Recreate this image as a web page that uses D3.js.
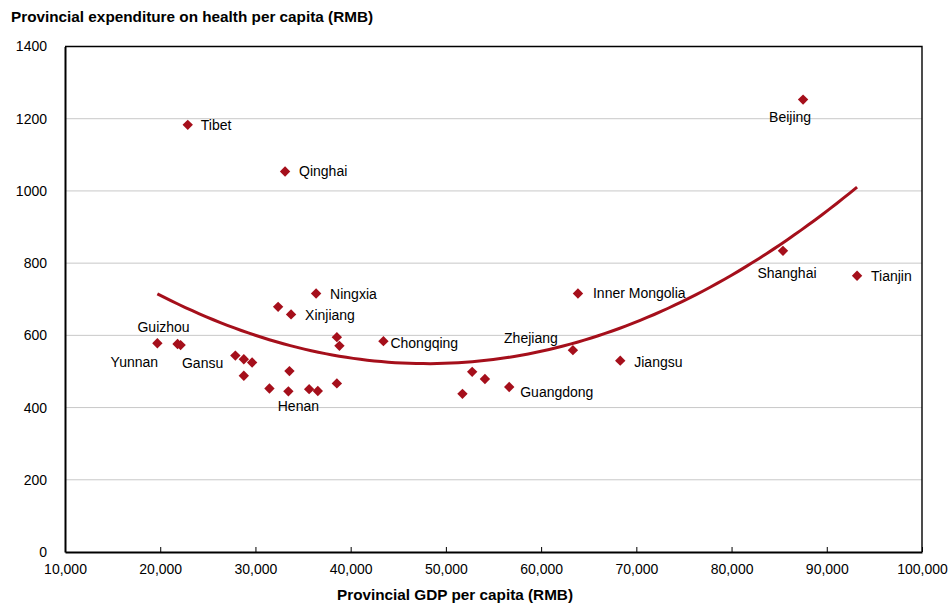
<!DOCTYPE html>
<html>
<head>
<meta charset="utf-8">
<script src="https://cdn.jsdelivr.net/npm/d3@7"></script>
<style>
  html, body { margin: 0; padding: 0; background: #fff; }
  svg text { font-family: "Liberation Sans", Arial, sans-serif; }
</style>
</head>
<body>
<svg id="chart" width="950" height="604"></svg>
<script>
// ---------- DATA ----------
const provinces = [
  "Tibet", "Qinghai", "Beijing", "Shanghai", "Tianjin", "Inner Mongolia",
  "Ningxia", "Xinjiang", "", "", "", "Chongqing",
  "Yunnan", "Guizhou", "Gansu", "", "", "", "", "",
  "", "Henan", "", "", "", "", "", "", "Guangdong", "Zhejiang", "Jiangsu"
];
const gdpPerCapita = [
  22890, 33110, 87510, 85400, 93180, 63870,
  36370, 33740, 32380, 38550, 38820, 43440,
  19700, 21820, 22140, 27890, 28780, 29650, 28780, 31470,
  33570, 33460, 35640, 36550, 38550, 52760, 54100, 51740, 56650, 63340, 68310
];
const healthPerCapita = [
  1183, 1054, 1253, 834, 765, 716,
  716, 658, 679, 595, 571, 584,
  578, 576, 573, 544, 534, 525, 488, 453,
  501, 445, 451, 446, 467, 499, 479, 438, 457, 559, 530
];
const xTicks = [10000, 20000, 30000, 40000, 50000, 60000, 70000, 80000, 90000, 100000];
const yTicks = [0, 200, 400, 600, 800, 1000, 1200, 1400];
const chartTitle = "Provincial expenditure on health per capita (RMB)";
const xTitle = "Provincial GDP per capita (RMB)";

// label placement (pixels relative to the marker): [anchor, dx, dy]
const labelPlacement = {
  "Tibet": ["start", 13, 0],
  "Qinghai": ["start", 14, 0],
  "Beijing": ["middle", -13, 18],
  "Shanghai": ["middle", 4, 22],
  "Tianjin": ["start", 14, 0],
  "Inner Mongolia": ["start", 15, 0],
  "Ningxia": ["start", 14, 1],
  "Xinjiang": ["start", 14, 1],
  "Chongqing": ["start", 7, 2],
  "Zhejiang": ["middle", -42, -12],
  "Jiangsu": ["start", 14, 1],
  "Guangdong": ["start", 11, 5],
  "Henan": ["middle", 10, 15],
  "Gansu": ["middle", 22, 18],
  "Yunnan": ["middle", -23, 19],
  "Guizhou": ["middle", -14, -17]
};

// ---------- LAYOUT ----------
const plotL = 65, plotR = 922, plotT = 46.5, plotB = 552;
const red = "#A50F1B";

const svg = d3.select("#chart");
const x = d3.scaleLinear().domain([10000, 100000]).range([plotL, plotR]);
const y = d3.scaleLinear().domain([0, 1400]).range([plotB, plotT]);

// gridlines
svg.append("g").selectAll("line")
  .data(yTicks.filter(v => v > 0 && v < 1400))
  .join("line")
  .attr("x1", plotL).attr("x2", plotR)
  .attr("y1", d => y(d)).attr("y2", d => y(d))
  .attr("stroke", "#c8c8c8").attr("stroke-width", 1);

// plot border (top and right)
svg.append("path")
  .attr("d", `M${plotL},${y(1400)}H${plotR}V${plotB}`)
  .attr("fill", "none").attr("stroke", "#000").attr("stroke-width", 1.4);

// x axis
const xAxis = svg.append("g")
  .attr("transform", `translate(0,${plotB})`)
  .call(d3.axisBottom(x).tickValues(xTicks).tickSizeInner(-5).tickSizeOuter(0)
    .tickPadding(12).tickFormat(d3.format(",")));
xAxis.select(".domain").attr("stroke", "#000").attr("stroke-width", 2);
xAxis.selectAll(".tick line").attr("stroke", "#000").attr("stroke-width", 1);
xAxis.selectAll("text").attr("font-size", 14).attr("fill", "#000")
  .style("font-family", "'Liberation Sans', Arial, sans-serif");

// y axis
const yAxis = svg.append("g")
  .attr("transform", `translate(${plotL},0)`)
  .call(d3.axisLeft(y).tickValues(yTicks).tickSize(0).tickPadding(18).tickFormat(d3.format("d")));
yAxis.select(".domain").attr("stroke", "#000").attr("stroke-width", 2);
yAxis.selectAll("text").attr("font-size", 14).attr("fill", "#000")
  .style("font-family", "'Liberation Sans', Arial, sans-serif");

// ---------- polynomial (order 2) trendline, least squares over the data ----------
const pts = gdpPerCapita.map((g, i) => [g / 1000, healthPerCapita[i]]);
function quadFit(p) {
  let s = [0, 0, 0, 0, 0], t = [0, 0, 0];
  p.forEach(([a, b]) => {
    for (let k = 0; k < 5; k++) s[k] += Math.pow(a, k);
    for (let k = 0; k < 3; k++) t[k] += b * Math.pow(a, k);
  });
  const M = [[s[0], s[1], s[2], t[0]], [s[1], s[2], s[3], t[1]], [s[2], s[3], s[4], t[2]]];
  for (let i = 0; i < 3; i++) {
    for (let j = i + 1; j < 3; j++) {
      const f = M[j][i] / M[i][i];
      for (let k = i; k < 4; k++) M[j][k] -= f * M[i][k];
    }
  }
  const c = [0, 0, 0];
  for (let i = 2; i >= 0; i--) {
    let v = M[i][3];
    for (let k = i + 1; k < 3; k++) v -= M[i][k] * c[k];
    c[i] = v / M[i][i];
  }
  return c;
}
const coef = quadFit(pts);
const [xmin, xmax] = d3.extent(gdpPerCapita);
const trend = d3.range(0, 101).map(i => {
  const g = xmin + (xmax - xmin) * i / 100;
  const a = g / 1000;
  return [g, coef[0] + coef[1] * a + coef[2] * a * a];
});
svg.append("path")
  .datum(trend)
  .attr("d", d3.line().x(d => x(d[0])).y(d => y(d[1])))
  .attr("fill", "none").attr("stroke", red).attr("stroke-width", 3);

// ---------- markers ----------
const diamond = d3.symbol().type(d3.symbolSquare).size(54);
svg.append("g").selectAll("path")
  .data(gdpPerCapita.map((g, i) => ({ g, h: healthPerCapita[i], name: provinces[i] })))
  .join("path")
  .attr("d", diamond)
  .attr("transform", d => `translate(${x(d.g)},${y(d.h)}) rotate(45)`)
  .attr("fill", red);

// ---------- labels ----------
svg.append("g").selectAll("text")
  .data(gdpPerCapita.map((g, i) => ({ g, h: healthPerCapita[i], name: provinces[i] }))
    .filter(d => d.name && labelPlacement[d.name]))
  .join("text")
  .attr("x", d => x(d.g) + labelPlacement[d.name][1])
  .attr("y", d => y(d.h) + labelPlacement[d.name][2])
  .attr("dy", "0.35em")
  .attr("text-anchor", d => labelPlacement[d.name][0])
  .attr("font-size", 14).attr("fill", "#000")
  .text(d => d.name);

// ---------- titles ----------
svg.append("text").attr("x", 11).attr("y", 22)
  .attr("font-size", 15.3).attr("font-weight", "bold").attr("fill", "#000")
  .text(chartTitle);
svg.append("text").attr("x", 455).attr("y", 600)
  .attr("text-anchor", "middle")
  .attr("font-size", 15.3).attr("font-weight", "bold").attr("fill", "#000")
  .text(xTitle);
</script>
</body>
</html>
